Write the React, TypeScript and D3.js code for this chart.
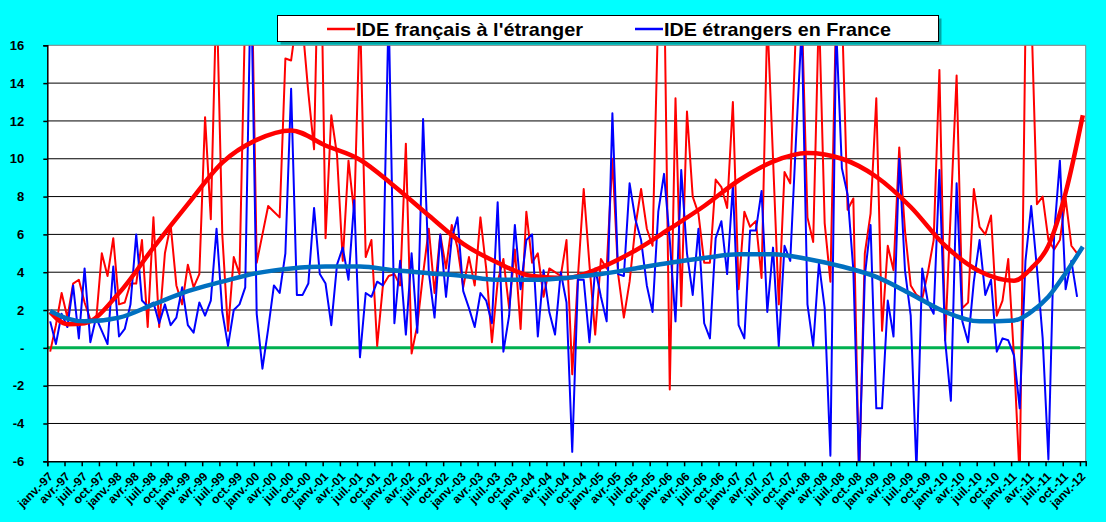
import React, { useEffect, useRef } from 'react';
import * as d3 from 'd3';

// Quarter tick labels, janv.-97 .. janv.-12
const quarterNames = ['janv.', 'avr.', 'juil.', 'oct.'];
const years = ['97', '98', '99', '00', '01', '02', '03', '04', '05', '06', '07', '08', '09', '10', '11', '12'];
const xLabels: string[] = years.flatMap(y => quarterNames.map(q => `${q}-${y}`)).slice(0, 61);

const yTicks = [-6, -4, -2, 0, 2, 4, 6, 8, 10, 12, 14, 16];

// Monthly values, janv.-97 .. déc.-11 (values above 16 / below -6 are clipped)
const ideFrancais = [
  -0.2, 1.2, 2.9, 1.6, 3.4, 3.6, 2.4, 1.5, 1.4, 5.0,
  3.8, 5.8, 2.3, 2.4, 3.4, 3.4, 5.7, 1.1, 6.9, 1.1,
  5.0, 6.5, 3.3, 2.3, 4.4, 3.2, 3.9, 12.2, 6.8, 19,
  6.0, 0.9, 4.8, 3.9, 18, 22, 4.5, 6.0, 7.5, 7.2,
  6.9, 15.3, 15.2, 17.5, 17, 13.5, 10.5, 25, 5.8, 12.3,
  10.2, 4.6, 9.9, 7.1, 18, 4.8, 5.7, 0.1, 3.3, 3.8,
  3.9, 3.3, 10.8, -0.3, 1.2, 3.9, 6.3, 2.9, 6.0, 4.2,
  6.5, 5.3, 3.2, 4.8, 3.3, 6.9, 4.2, 0.3, 3.5, 4.7,
  2.1, 5.2, 1.0, 7.2, 4.5, 5.0, 2.7, 4.2, 4.0, 3.8,
  5.7, -1.4, 3.8, 8.4, 4.4, 0.7, 4.7, 4.2, 10.0, 3.9,
  1.6, 3.5, 6.4, 8.4, 6.3, 5.4, 18, 20, -2.2, 13.2,
  2.2, 12.5, 8.0, 7.1, 4.5, 4.5, 8.9, 8.5, 7.4, 13.0,
  3.1, 7.2, 6.4, 6.7, 3.7, 17.5, 10, 2.3, 9.3, 8.7,
  17, 18, 6.9, 5.6, 18, 6.6, 3.5, 18, 18, 7.3,
  7.9, -7, 5.0, 7.1, 13.2, 0.9, 5.4, 4.1, 10.6, 6.2,
  3.3, 2.8, 2.6, 4.0, 5.7, 14.7, 0.4, 7.4, 14.4, 2.1,
  2.4, 8.4, 6.4, 6.0, 7.0, 1.7, 2.5, 4.7, -0.5, -7,
  17, 18, 7.6, 8.0, 5.7, 5.2, 5.7, 7.9, 5.4, 5.0
];

const ideEtrangers = [
  1.4, 0.2, 1.8, 1.1, 3.3, 0.5, 4.2, 0.3, 1.6, 0.9,
  0.2, 4.3, 0.6, 1.0, 2.3, 6.0, 2.5, 2.2, 2.4, 1.3,
  2.3, 1.2, 1.6, 3.2, 1.2, 0.8, 2.4, 1.7, 2.5, 6.3,
  1.9, 0.1, 2.0, 2.3, 3.2, 20, 1.8, -1.1, 1.0, 3.3,
  2.9, 5.0, 13.7, 2.8, 2.8, 3.4, 7.4, 3.9, 3.4, 1.2,
  4.4, 5.3, 3.6, 7.8, -0.5, 2.9, 2.7, 3.5, 3.3, 18,
  1.3, 4.6, 0.7, 5.0, 0.8, 12.1, 4.0, 1.6, 6.0, 2.7,
  5.8, 6.9, 3.0, 2.1, 1.1, 2.9, 2.5, 1.3, 7.7, -0.2,
  1.7, 6.5, 3.1, 5.7, 6.0, 0.6, 4.1, 1.9, 0.7, 4.0,
  2.4, -5.5, 3.6, 3.6, 0.3, 4.2, 2.7, 1.4, 12.4, 3.9,
  3.8, 8.7, 6.8, 5.7, 3.3, 1.9, 7.2, 9.2, 5.7, 1.4,
  9.4, 5.0, 2.8, 6.3, 1.3, 0.5, 5.8, 6.7, 3.9, 8.6,
  1.2, 0.5, 6.2, 6.2, 8.3, 1.9, 5.3, 0.1, 5.4, 4.6,
  11, 17, 2.3, 0.1, 4.5, 2.1, -5.7, 17, 9.5, 8.1,
  4.1, -6.5, 3.8, 6.5, -3.2, -3.2, 2.5, 0.6, 10.0, 4.1,
  1.7, -6.5, 4.2, 2.4, 1.8, 9.4, 0.4, -2.8, 8.7, 1.4,
  0.3, 3.5, 5.7, 2.8, 3.6, -0.2, 0.5, 0.4, -0.4, -3.2,
  4.6, 7.5, 4.2, 0.5, -5.9, 6.0, 9.9, 3.1, 4.6, 2.7
];

// Trend curves (month index from janv.-97)
const trendMonths = [0, 3, 6, 12, 18, 24, 30, 36, 42, 48, 54, 60, 66, 72, 78, 84, 90, 96, 102, 108, 114, 120, 126, 132, 138, 144, 150, 156, 162, 168, 171, 174, 177, 180];
const trendFrancais = [1.9, 1.25, 1.3, 2.9, 5.3, 7.6, 9.8, 11.0, 11.5, 10.7, 9.95, 8.55, 7.0, 5.5, 4.5, 3.8, 3.7, 4.25, 5.15, 6.3, 7.5, 8.85, 9.85, 10.3, 10.0, 9.05, 7.45, 5.4, 4.05, 3.55, 4.2, 5.4, 8.2, 12.3];
const trendEtrangers = [1.95, 1.55, 1.4, 1.6, 2.3, 3.0, 3.5, 3.95, 4.2, 4.3, 4.3, 4.1, 3.95, 3.8, 3.6, 3.6, 3.7, 3.9, 4.2, 4.5, 4.75, 4.95, 4.95, 4.7, 4.3, 3.75, 2.85, 1.9, 1.4, 1.45, 1.9, 2.7, 3.95, 5.35];

const legendItems = [
  { label: "IDE français à l'étranger", color: '#ff0000' },
  { label: 'IDE étrangers en France', color: '#0000ff' }
];

const FONT = '"Liberation Sans", Arial, sans-serif';

const Chart: React.FC = () => {
  const svgRef = useRef<SVGSVGElement>(null);

  useEffect(() => {
    if (!svgRef.current) return;
    const width = 1106;
    const height = 522;
    const plot = { left: 47.3, right: 1085.7, top: 45.3, bottom: 461.3 };
    const nCats = 181;

    const svg = d3.select(svgRef.current);
    svg.selectAll('*').remove();
    svg.attr('width', width).attr('height', height);

    const x = d3.scaleLinear().domain([0, nCats]).range([plot.left, plot.right]);
    const y = d3.scaleLinear().domain([-6, 16]).range([plot.bottom, plot.top]);
    const cx = (i: number) => x(i + 0.5);

    // background
    svg.append('rect').attr('width', width).attr('height', height).attr('fill', '#00ffff');
    svg.append('rect')
      .attr('x', plot.left).attr('y', plot.top)
      .attr('width', plot.right - plot.left).attr('height', plot.bottom - plot.top)
      .attr('fill', '#ffffff');

    // gridlines
    svg.append('g')
      .selectAll('line')
      .data(yTicks.filter(t => t > -6 && t < 16))
      .enter().append('line')
      .attr('x1', plot.left).attr('x2', plot.right)
      .attr('y1', d => y(d)).attr('y2', d => y(d))
      .attr('stroke', '#000').attr('stroke-width', 1);

    svg.append('clipPath').attr('id', 'plot-clip')
      .append('rect')
      .attr('x', plot.left).attr('y', plot.top)
      .attr('width', plot.right - plot.left).attr('height', plot.bottom - plot.top);

    const g = svg.append('g').attr('clip-path', 'url(#plot-clip)');

    // zero line
    g.append('line')
      .attr('x1', x(0)).attr('x2', x(180))
      .attr('y1', y(0)).attr('y2', y(0))
      .attr('stroke', '#00b050').attr('stroke-width', 3);

    const monthLine = d3.line<number>()
      .x((_, i) => cx(i))
      .y(d => y(d));

    g.append('path')
      .datum(ideFrancais)
      .attr('fill', 'none').attr('stroke', '#ff0000').attr('stroke-width', 2)
      .attr('stroke-linejoin', 'round')
      .attr('d', monthLine);

    g.append('path')
      .datum(ideEtrangers)
      .attr('fill', 'none').attr('stroke', '#0000ff').attr('stroke-width', 2)
      .attr('stroke-linejoin', 'round')
      .attr('d', monthLine);

    const trendLine = d3.line<number>()
      .x((_, i) => cx(trendMonths[i]))
      .y(d => y(d))
      .curve(d3.curveMonotoneX);

    g.append('path')
      .datum(trendFrancais)
      .attr('fill', 'none').attr('stroke', '#ff0000').attr('stroke-width', 4.5)
      .attr('d', trendLine);

    g.append('path')
      .datum(trendEtrangers)
      .attr('fill', 'none').attr('stroke', '#0070c0').attr('stroke-width', 4.5)
      .attr('d', trendLine);

    // plot border (top/right)
    svg.append('path')
      .attr('d', `M${plot.left},${plot.top}H${plot.right}V${plot.bottom}`)
      .attr('fill', 'none').attr('stroke', '#808080').attr('stroke-width', 1);

    // y axis
    const yAxis = svg.append('g')
      .attr('transform', `translate(${plot.left},0)`)
      .call(d3.axisLeft(y)
        .tickValues(yTicks)
        .tickSize(4)
        .tickPadding(19)
        .tickFormat(d => (+d === 0 ? '-' : String(d))) as any);
    yAxis.select('.domain').attr('stroke', '#000').attr('stroke-width', 1.5);
    yAxis.selectAll('.tick line').attr('stroke', '#000').attr('stroke-width', 1.5);
    yAxis.selectAll('.tick text')
      .attr('fill', '#000')
      .style('font-family', FONT)
      .style('font-size', '13px')
      .style('font-weight', 'bold');

    // x axis: ticks between categories, every 3 months
    const tickIdx = xLabels.map((_, k) => k * 3);
    const xAxis = svg.append('g')
      .attr('transform', `translate(0,${plot.bottom})`)
      .call(d3.axisBottom(x)
        .tickValues(tickIdx)
        .tickSize(5)
        .tickFormat(() => '') as any);
    xAxis.select('.domain').attr('stroke', '#000').attr('stroke-width', 1.5);
    xAxis.selectAll('.tick line').attr('stroke', '#000').attr('stroke-width', 1.5);

    svg.append('g')
      .selectAll('text')
      .data(xLabels)
      .enter().append('text')
      .attr('transform', (_, k) => `translate(${cx(k * 3) + 0.5},${plot.bottom + 13}) rotate(-45)`)
      .attr('text-anchor', 'end')
      .attr('dy', '0.35em')
      .attr('fill', '#000')
      .style('font-family', FONT)
      .style('font-size', '12px')
      .style('font-weight', 'bold')
      .text(d => d);

    // legend
    const legend = svg.append('g');
    legend.append('rect')
      .attr('x', 280.5).attr('y', 18.5).attr('width', 661).attr('height', 26)
      .attr('fill', '#000').attr('fill-opacity', 0.35);
    legend.append('rect')
      .attr('x', 277.5).attr('y', 15.5).attr('width', 661).attr('height', 26)
      .attr('fill', '#fff').attr('stroke', '#000').attr('stroke-width', 1);

    const legendX = [327, 635];
    legendItems.forEach((item, k) => {
      legend.append('line')
        .attr('x1', legendX[k]).attr('x2', legendX[k] + 28)
        .attr('y1', 29).attr('y2', 29)
        .attr('stroke', item.color).attr('stroke-width', 2.5);
      legend.append('text')
        .attr('x', legendX[k] + 29).attr('y', 35.5)
        .attr('textLength', 227)
        .attr('lengthAdjust', 'spacingAndGlyphs')
        .attr('fill', '#000')
        .style('font-family', FONT)
        .style('font-size', '19px')
        .style('font-weight', 'bold')
        .text(item.label);
    });
  }, []);

  return <svg ref={svgRef} style={{ position: 'absolute', left: 0, top: 0, display: 'block' }} />;
};

export default function App() {
  return <Chart />;
}
